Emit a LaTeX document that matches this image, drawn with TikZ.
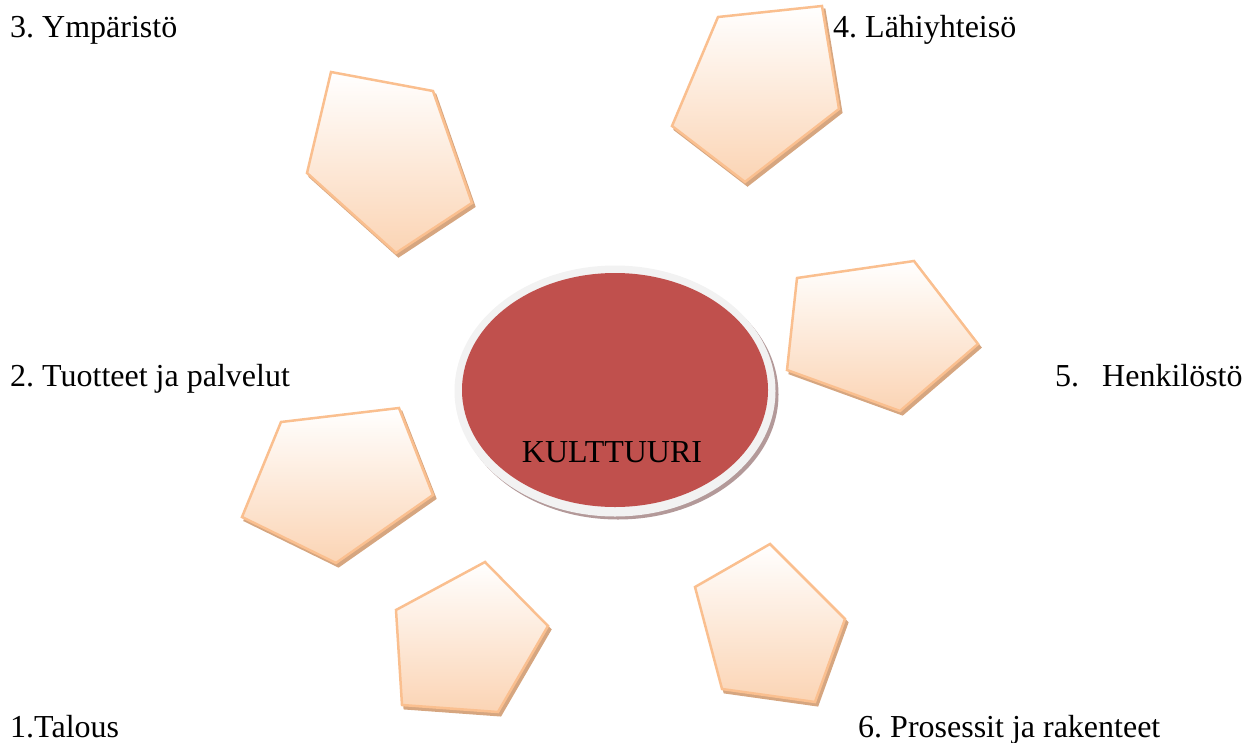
\documentclass[tikz,border=0pt]{standalone}
\usepackage{fontspec}
\setmainfont{Liberation Serif}
\newfontfamily\tnr{Liberation Serif}
\frenchspacing
\definecolor{pfill}{HTML}{FBD4B4}
\definecolor{pedge}{HTML}{FABF8F}
\definecolor{pshadow}{HTML}{D6A680}
\definecolor{kred}{HTML}{C0504D}
\definecolor{kring}{HTML}{F2F2F2}
\definecolor{kshadow}{HTML}{B39999}
\tikzset{
  txt/.style={inner sep=0pt, font=\tnr\fontsize{32}{38}\selectfont},
  lbl/.style={txt, anchor=base west},
  pentashadow/.style={fill=pshadow, draw=pshadow, line width=2pt, shift={(2.5,3.5)}},
  penta/.style={top color=white, bottom color=pfill, draw=pedge, line width=2.5pt, line join=miter},
}
\newcommand\mypent[5]{%
  \fill[pentashadow] #1 -- #2 -- #3 -- #4 -- #5 -- cycle;
  \shade[penta] #1 -- #2 -- #3 -- #4 -- #5 -- cycle;}
\begin{document}
\begin{tikzpicture}[x=1pt,y=-1pt]
\useasboundingbox (0,0) rectangle (1247,742);
% pentagons
\mypent{(331,72)}{(433,91)}{(472,203)}{(396,253)}{(307,173)}
\mypent{(718,17)}{(822,6)}{(839,109)}{(745,182)}{(672,126)}
\mypent{(797,278)}{(914,261)}{(978,344)}{(900,411)}{(787,370)}
\mypent{(281,422)}{(399,408)}{(433,495)}{(336,563)}{(242,517)}
\mypent{(485,562)}{(548,626)}{(498,712)}{(402,705)}{(396,610)}
\mypent{(770,544)}{(845,619)}{(815,702)}{(722,689)}{(695,587)}
% central ellipse
\fill[kshadow] (618,394.5) ellipse [x radius=160.5, y radius=125];
\fill[kring] (615,391) ellipse [x radius=160.5, y radius=125.5];
\fill[kred] (615,390) ellipse [x radius=153, y radius=117];
\node[txt, anchor=base] (kult) at (612,462) {KULTTUURI};
% labels
\node[lbl] (t3) at (10,37) {3. Ympäristö};
\node[lbl] (t4) at (833,37) {4. Lähiyhteisö};
\node[lbl] (t2) at (10,386) {2. Tuotteet ja palvelut};
\node[lbl] (t5) at (1055,386) {5.\hspace{23pt}Henkilöstö};
\node[lbl] (t1) at (10,737) {1.Talous};
\node[lbl] (t6) at (858,737) {6. Prosessit ja rakenteet};
\end{tikzpicture}
\end{document}
